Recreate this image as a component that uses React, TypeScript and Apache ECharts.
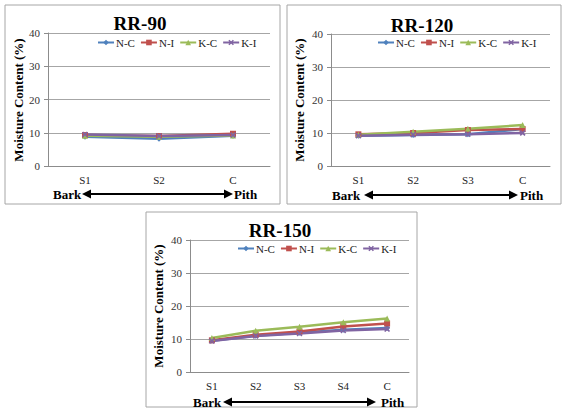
import React, { useEffect, useRef } from "react";
import * as echarts from "echarts";

const seriesNames = ["N-C", "N-I", "K-C", "K-I"];
const seriesColors = ["#4F81BD", "#C0504D", "#9BBB59", "#8064A2"];

const cats90 = ["S1", "S2", "C"];
const cats120 = ["S1", "S2", "S3", "C"];
const cats150 = ["S1", "S2", "S3", "S4", "C"];

const rr90NC = [8.8, 8.2, 9.1];
const rr90NI = [9.3, 9.0, 9.7];
const rr90KC = [9.1, 8.8, 9.2];
const rr90KI = [9.5, 9.0, 9.3];

const rr120NC = [9.2, 9.4, 9.6, 11.2];
const rr120NI = [9.6, 10.0, 10.9, 11.2];
const rr120KC = [9.5, 10.4, 11.3, 12.4];
const rr120KI = [9.2, 9.5, 9.6, 10.0];

const rr150NC = [9.5, 11.0, 11.9, 12.8, 13.3];
const rr150NI = [9.6, 11.3, 12.3, 13.8, 14.7];
const rr150KC = [10.3, 12.5, 13.7, 15.1, 16.2];
const rr150KI = [9.4, 10.9, 11.7, 12.6, 13.0];

const yMin = 0;
const yMax = 40;
const yInterval = 10;

const titles = ["RR-90", "RR-120", "RR-150"];
const yAxisTitle = "Moisture Content (%)";
const barkLabel = "Bark";
const pithLabel = "Pith";

const panelData = [
  { cats: cats90, values: [rr90NC, rr90NI, rr90KC, rr90KI] },
  { cats: cats120, values: [rr120NC, rr120NI, rr120KC, rr120KI] },
  { cats: cats150, values: [rr150NC, rr150NI, rr150KC, rr150KI] },
];

// layout (pixels)
const layout = [
  { box: [5, 5, 275, 199], grid: [48, 33, 222, 133], legend: [97, 37], title: [140, 23], ylab: [18, 100], bark: [53, 194], arrow: [82, 233], pith: [234] },
  { box: [287, 5, 274, 199], grid: [331, 34, 219, 132], legend: [377, 37], title: [422, 25], ylab: [299, 100], bark: [332, 195], arrow: [364, 518], pith: [520] },
  { box: [146, 212, 271, 195], grid: [190, 240, 219, 132], legend: [237, 243], title: [280, 230], ylab: [158, 306], bark: [193, 402], arrow: [223, 376], pith: [381] },
];

const symbols = [
  "diamond",
  "rect",
  "triangle",
  "path://M2,0L5,3L8,0L10,2L7,5L10,8L8,10L5,7L2,10L0,8L3,5L0,2Z",
];

const FONT = "Liberation Serif";

export default function App() {
  const ref = useRef<HTMLDivElement>(null);
  useEffect(() => {
    if (!ref.current) return;
    const chart = echarts.init(ref.current, undefined, { renderer: "svg" });

    const grids: any[] = [];
    const xAxes: any[] = [];
    const yAxes: any[] = [];
    const legends: any[] = [];
    const series: any[] = [];
    const graphics: any[] = [];

    const txt = (x: number, y: number, text: string, size: number, align: string, rot = 0) => ({
      type: "text",
      x,
      y,
      rotation: rot,
      style: {
        text,
        fontFamily: FONT,
        fontWeight: "bold",
        fontSize: size,
        fill: "#000",
        align,
        verticalAlign: "middle",
      },
    });

    layout.forEach((L, p) => {
      const [gl, gt, gw, gh] = L.grid;
      grids.push({ left: gl, top: gt, width: gw, height: gh, containLabel: false });
      xAxes.push({
        type: "category",
        gridIndex: p,
        data: panelData[p].cats,
        boundaryGap: true,
        axisLine: { lineStyle: { color: "#8C8C8C", width: 1 } },
        axisTick: { show: false },
        axisLabel: { color: "#222", fontFamily: FONT, fontSize: 11, margin: 8 },
      });
      yAxes.push({
        type: "value",
        gridIndex: p,
        min: yMin,
        max: yMax,
        interval: yInterval,
        axisLine: { show: true, lineStyle: { color: "#8C8C8C", width: 1 } },
        axisTick: { show: true, length: 4, lineStyle: { color: "#8C8C8C" } },
        splitLine: { lineStyle: { color: "#A6A6A6", width: 1 } },
        axisLabel: { color: "#333", fontFamily: FONT, fontSize: 11, margin: 8 },
      });
      legends.push({
        left: L.legend[0],
        top: L.legend[1],
        data: seriesNames,
        itemWidth: 16,
        itemHeight: 7,
        itemGap: 5,
        padding: 0,
        textStyle: { fontFamily: FONT, fontSize: 11, color: "#222", padding: [0, 0, 0, -3] },
      });
      seriesNames.forEach((name, i) => {
        series.push({
          type: "line",
          name,
          xAxisIndex: p,
          yAxisIndex: p,
          data: panelData[p].values[i],
          symbol: symbols[i],
          symbolSize: 6,
          showSymbol: true,
          lineStyle: { color: seriesColors[i], width: 2.5 },
          itemStyle: { color: seriesColors[i] },
          z: 3,
        });
      });

      const [bx, by, bw, bh] = L.box;
      graphics.push({
        type: "rect",
        shape: { x: bx, y: by, width: bw, height: bh },
        style: { fill: "none", stroke: "#A6A6A6", lineWidth: 1 },
        z: 0,
      });
      graphics.push(txt(L.title[0], L.title[1], titles[p], 19, "center"));
      graphics.push(txt(L.ylab[0], L.ylab[1], yAxisTitle, 13, "center", Math.PI / 2));
      graphics.push(txt(L.bark[0], L.bark[1], barkLabel, 13, "left"));
      graphics.push(txt(L.pith[0], L.bark[1], pithLabel, 13, "left"));
      const [ax1, ax2] = L.arrow;
      const ay = L.bark[1];
      graphics.push({
        type: "line",
        shape: { x1: ax1 + 6, y1: ay, x2: ax2 - 6, y2: ay },
        style: { stroke: "#000", lineWidth: 2 },
      });
      graphics.push({
        type: "polygon",
        shape: { points: [[ax1, ay], [ax1 + 9, ay - 4.5], [ax1 + 9, ay + 4.5]] },
        style: { fill: "#000" },
      });
      graphics.push({
        type: "polygon",
        shape: { points: [[ax2, ay], [ax2 - 9, ay - 4.5], [ax2 - 9, ay + 4.5]] },
        style: { fill: "#000" },
      });
    });

    chart.setOption({
      animation: false,
      backgroundColor: "#ffffff",
      grid: grids,
      xAxis: xAxes,
      yAxis: yAxes,
      legend: legends,
      series,
      graphic: graphics,
    });
    return () => chart.dispose();
  }, []);

  return (
    <div
      ref={ref}
      style={{ position: "fixed", left: 0, top: 0, width: 567, height: 416, background: "#fff" }}
    />
  );
}
